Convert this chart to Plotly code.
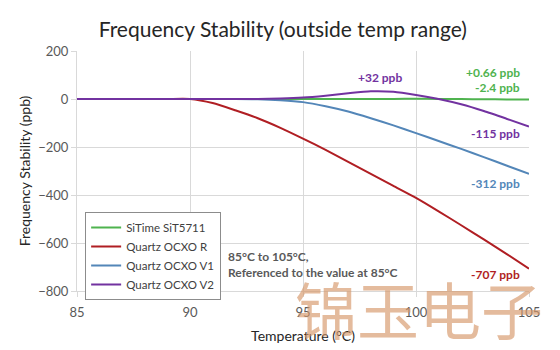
import plotly.graph_objects as go

temps = [85, 86, 87, 88, 89, 90, 91, 92, 93, 94, 95, 96, 97, 98, 99, 100, 101, 102, 103, 104, 105]
sitime = [0, 0, 0, 0, 0, 0, 0, 0, 0, 0, 0, 0, 0.1, 0.2, 0.4, 0.66, 0.4, -0.3, -0.9, -1.6, -2.4]
ocxo_r = [0, 0, 0, 0, 0, 0, -17, -47, -80, -120, -165, -212, -262, -312, -362, -412, -468, -526, -585, -645, -707]
ocxo_v1 = [0, 0, 0, 0, 0, 0, 0, 0, -1, -5, -13, -30, -52, -80, -110, -142, -175, -208, -242, -277, -312]
ocxo_v2 = [0, 0, 0, 0, 0, 0, 0, 0, 0, 2, 6, 14, 24, 32, 30, 17, 0, -22, -50, -82, -115]

series_names = ["SiTime SiT5711", "Quartz OCXO R", "Quartz OCXO V1", "Quartz OCXO V2"]
series_colors = ["#4fb34f", "#b01e23", "#5386b8", "#7232a0"]
series_values = [sitime, ocxo_r, ocxo_v1, ocxo_v2]

x_ticks = [85, 90, 95, 100, 105]
y_ticks = [200, 0, -200, -400, -600, -800]

FONT = "Lato"

fig = go.Figure()
for name, color, vals in zip(series_names, series_colors, series_values):
    fig.add_trace(go.Scatter(x=temps, y=vals, mode="lines", name=name,
                             line=dict(color=color, width=2, shape="spline", smoothing=0.6)))

# end labels: (text, x, y, color, anchor)
labels = [
    ("+32 ppb", 98.4, 88, "#7232a0", "center"),
    ("+0.66 ppb", 104.7, 112, "#4fb34f", "right"),
    ("-2.4 ppb", 104.7, 46, "#4fb34f", "right"),
    ("-115 ppb", 104.7, -142, "#7232a0", "right"),
    ("-312 ppb", 104.7, -350, "#5386b8", "right"),
    ("-707 ppb", 104.7, -733, "#b01e23", "right"),
]
for text, lx, ly, color, anchor in labels:
    fig.add_annotation(x=lx, y=ly, text="<b>" + text + "</b>", showarrow=False,
                       xanchor=anchor, yanchor="middle",
                       font=dict(family=FONT, size=12, color=color))

fig.add_annotation(x=91.6, y=-688, text="<b>85°C to 105°C,<br>Referenced to the value at 85°C</b>",
                   showarrow=False, xanchor="left", yanchor="middle", align="left",
                   font=dict(family=FONT, size=12, color="#595959"))

fig.add_annotation(xref="paper", yref="paper", x=0.757, y=-0.07, text="锦玉电子",
                   showarrow=False, xanchor="center", yanchor="middle",
                   font=dict(family="Noto Sans CJK SC", size=62, color="rgba(214,150,105,0.65)"))

fig.update_layout(
    width=560, height=350,
    margin=dict(l=77, r=31, t=51, b=59, autoexpand=False),
    paper_bgcolor="white", plot_bgcolor="white",
    title=dict(text="Frequency Stability (outside temp range)", x=0.505, xanchor="center",
               y=0.915, yanchor="middle", font=dict(family=FONT, size=21, color="#262626")),
    font=dict(family=FONT, size=13, color="#595959"),
    legend=dict(x=0.018, y=0.329, xanchor="left", yanchor="top",
                bordercolor="#8c8c8c", borderwidth=1, bgcolor="white",
                font=dict(family=FONT, size=11.5, color="#404040"),
                tracegroupgap=0, itemwidth=30),
    showlegend=True,
)
fig.update_xaxes(range=[85, 105], tickvals=x_ticks, showgrid=True, gridcolor="#d9d9d9",
                 zeroline=False, showline=True, linecolor="#d9d9d9", ticks="outside",
                 ticklen=5, tickcolor="#d9d9d9", ticklabelstandoff=4, automargin=False,
                 title=dict(text="Temperature (°C)", font=dict(family=FONT, size=14, color="#262626"),
                            standoff=12))
fig.update_yaxes(range=[-800, 200], tickvals=y_ticks, showgrid=True, gridcolor="#d9d9d9",
                 zeroline=False, showline=True, linecolor="#d9d9d9", ticks="outside",
                 ticklen=5, tickcolor="#d9d9d9", automargin=False,
                 title=dict(text="Frequency Stability (ppb)", font=dict(family=FONT, size=14, color="#262626"),
                            standoff=4))

fig.write_html("out.html")
